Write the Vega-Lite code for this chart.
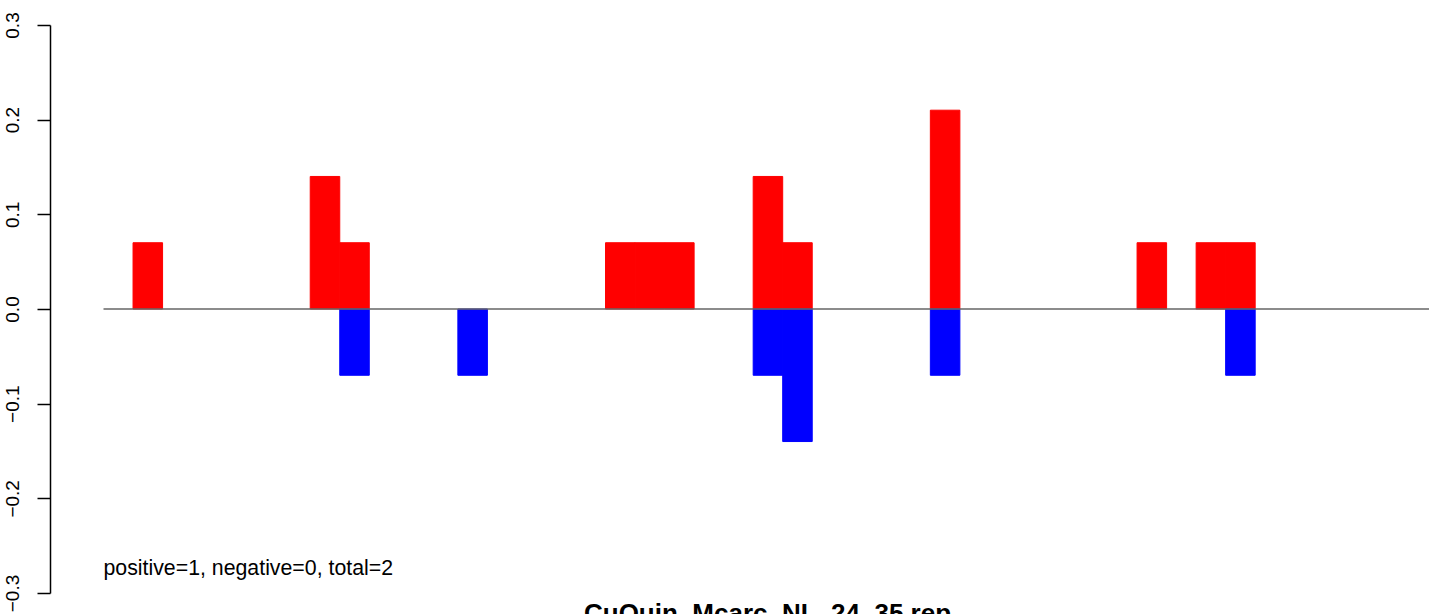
{
  "$schema": "https://vega.github.io/schema/vega-lite/v6.json",
  "autosize": "none",
  "width": 1379,
  "height": 568,
  "padding": {"left": 50, "top": 25, "right": 0, "bottom": 21},
  "background": "white",
  "config": {
    "view": {"stroke": null},
    "font": "Liberation Sans"
  },
  "title": {
    "text": "CuQuin_Mcarc_NL_24_35 rep",
    "orient": "bottom",
    "anchor": "middle",
    "frame": "group",
    "offset": -11,
    "dx": 28,
    "baseline": "top",
    "font": "Liberation Sans",
    "fontSize": 26,
    "fontWeight": "bold",
    "color": "black"
  },
  "data": {
    "values": [
      {"bin_start": 1, "bin_end": 2, "value": 0.07, "sign": "positive"},
      {"bin_start": 7, "bin_end": 8, "value": 0.14, "sign": "positive"},
      {"bin_start": 8, "bin_end": 9, "value": 0.07, "sign": "positive"},
      {"bin_start": 17, "bin_end": 18, "value": 0.07, "sign": "positive"},
      {"bin_start": 18, "bin_end": 19, "value": 0.07, "sign": "positive"},
      {"bin_start": 19, "bin_end": 20, "value": 0.07, "sign": "positive"},
      {"bin_start": 22, "bin_end": 23, "value": 0.14, "sign": "positive"},
      {"bin_start": 23, "bin_end": 24, "value": 0.07, "sign": "positive"},
      {"bin_start": 28, "bin_end": 29, "value": 0.21, "sign": "positive"},
      {"bin_start": 35, "bin_end": 36, "value": 0.07, "sign": "positive"},
      {"bin_start": 37, "bin_end": 38, "value": 0.07, "sign": "positive"},
      {"bin_start": 38, "bin_end": 39, "value": 0.07, "sign": "positive"},
      {"bin_start": 8, "bin_end": 9, "value": -0.07, "sign": "negative"},
      {"bin_start": 12, "bin_end": 13, "value": -0.07, "sign": "negative"},
      {"bin_start": 22, "bin_end": 23, "value": -0.07, "sign": "negative"},
      {"bin_start": 23, "bin_end": 24, "value": -0.14, "sign": "negative"},
      {"bin_start": 28, "bin_end": 29, "value": -0.07, "sign": "negative"},
      {"bin_start": 38, "bin_end": 39, "value": -0.07, "sign": "negative"}
    ]
  },
  "layer": [
    {
      "mark": {"type": "bar", "strokeWidth": 1},
      "encoding": {
        "x": {
          "field": "bin_start",
          "type": "quantitative",
          "scale": {"domain": [-1.812, 44.886], "nice": false, "zero": false},
          "axis": null
        },
        "x2": {"field": "bin_end"},
        "y": {
          "field": "value",
          "type": "quantitative",
          "scale": {"domain": [-0.3, 0.3], "nice": false},
          "axis": {
            "values": [-0.3, -0.2, -0.1, 0, 0.1, 0.2, 0.3],
            "format": ".1f",
            "title": null,
            "grid": false,
            "labelAngle": 270,
            "labelAlign": "center",
            "labelBaseline": "alphabetic",
            "labelPadding": 19,
            "labelFontSize": 19,
            "labelFont": "Liberation Sans",
            "labelColor": "black",
            "labelFlush": false,
            "labelOverlap": false,
            "tickSize": 13,
            "tickWidth": 1.5,
            "tickColor": "black",
            "domainColor": "black",
            "domainWidth": 1.5
          }
        },
        "y2": {"datum": 0},
        "color": {
          "field": "sign",
          "type": "nominal",
          "scale": {"domain": ["positive", "negative"], "range": ["#ff0000", "#0000ff"]},
          "legend": null
        },
        "stroke": {
          "field": "sign",
          "type": "nominal",
          "scale": {"domain": ["positive", "negative"], "range": ["#ff0000", "#0000ff"]},
          "legend": null
        }
      }
    },
    {
      "data": {"values": [{"level": 0}]},
      "mark": {"type": "rule", "color": "#666666", "strokeWidth": 1.3},
      "encoding": {
        "x": {"datum": 0},
        "x2": {"datum": 45},
        "y": {"field": "level", "type": "quantitative"}
      }
    },
    {
      "data": {"values": [{"label": "positive=1, negative=0, total=2"}]},
      "mark": {"type": "text", "align": "left", "baseline": "alphabetic", "font": "Liberation Sans", "fontSize": 21.3, "color": "black"},
      "encoding": {
        "x": {"datum": 0},
        "y": {"datum": -0.281},
        "text": {"field": "label", "type": "nominal"}
      }
    }
  ]
}
